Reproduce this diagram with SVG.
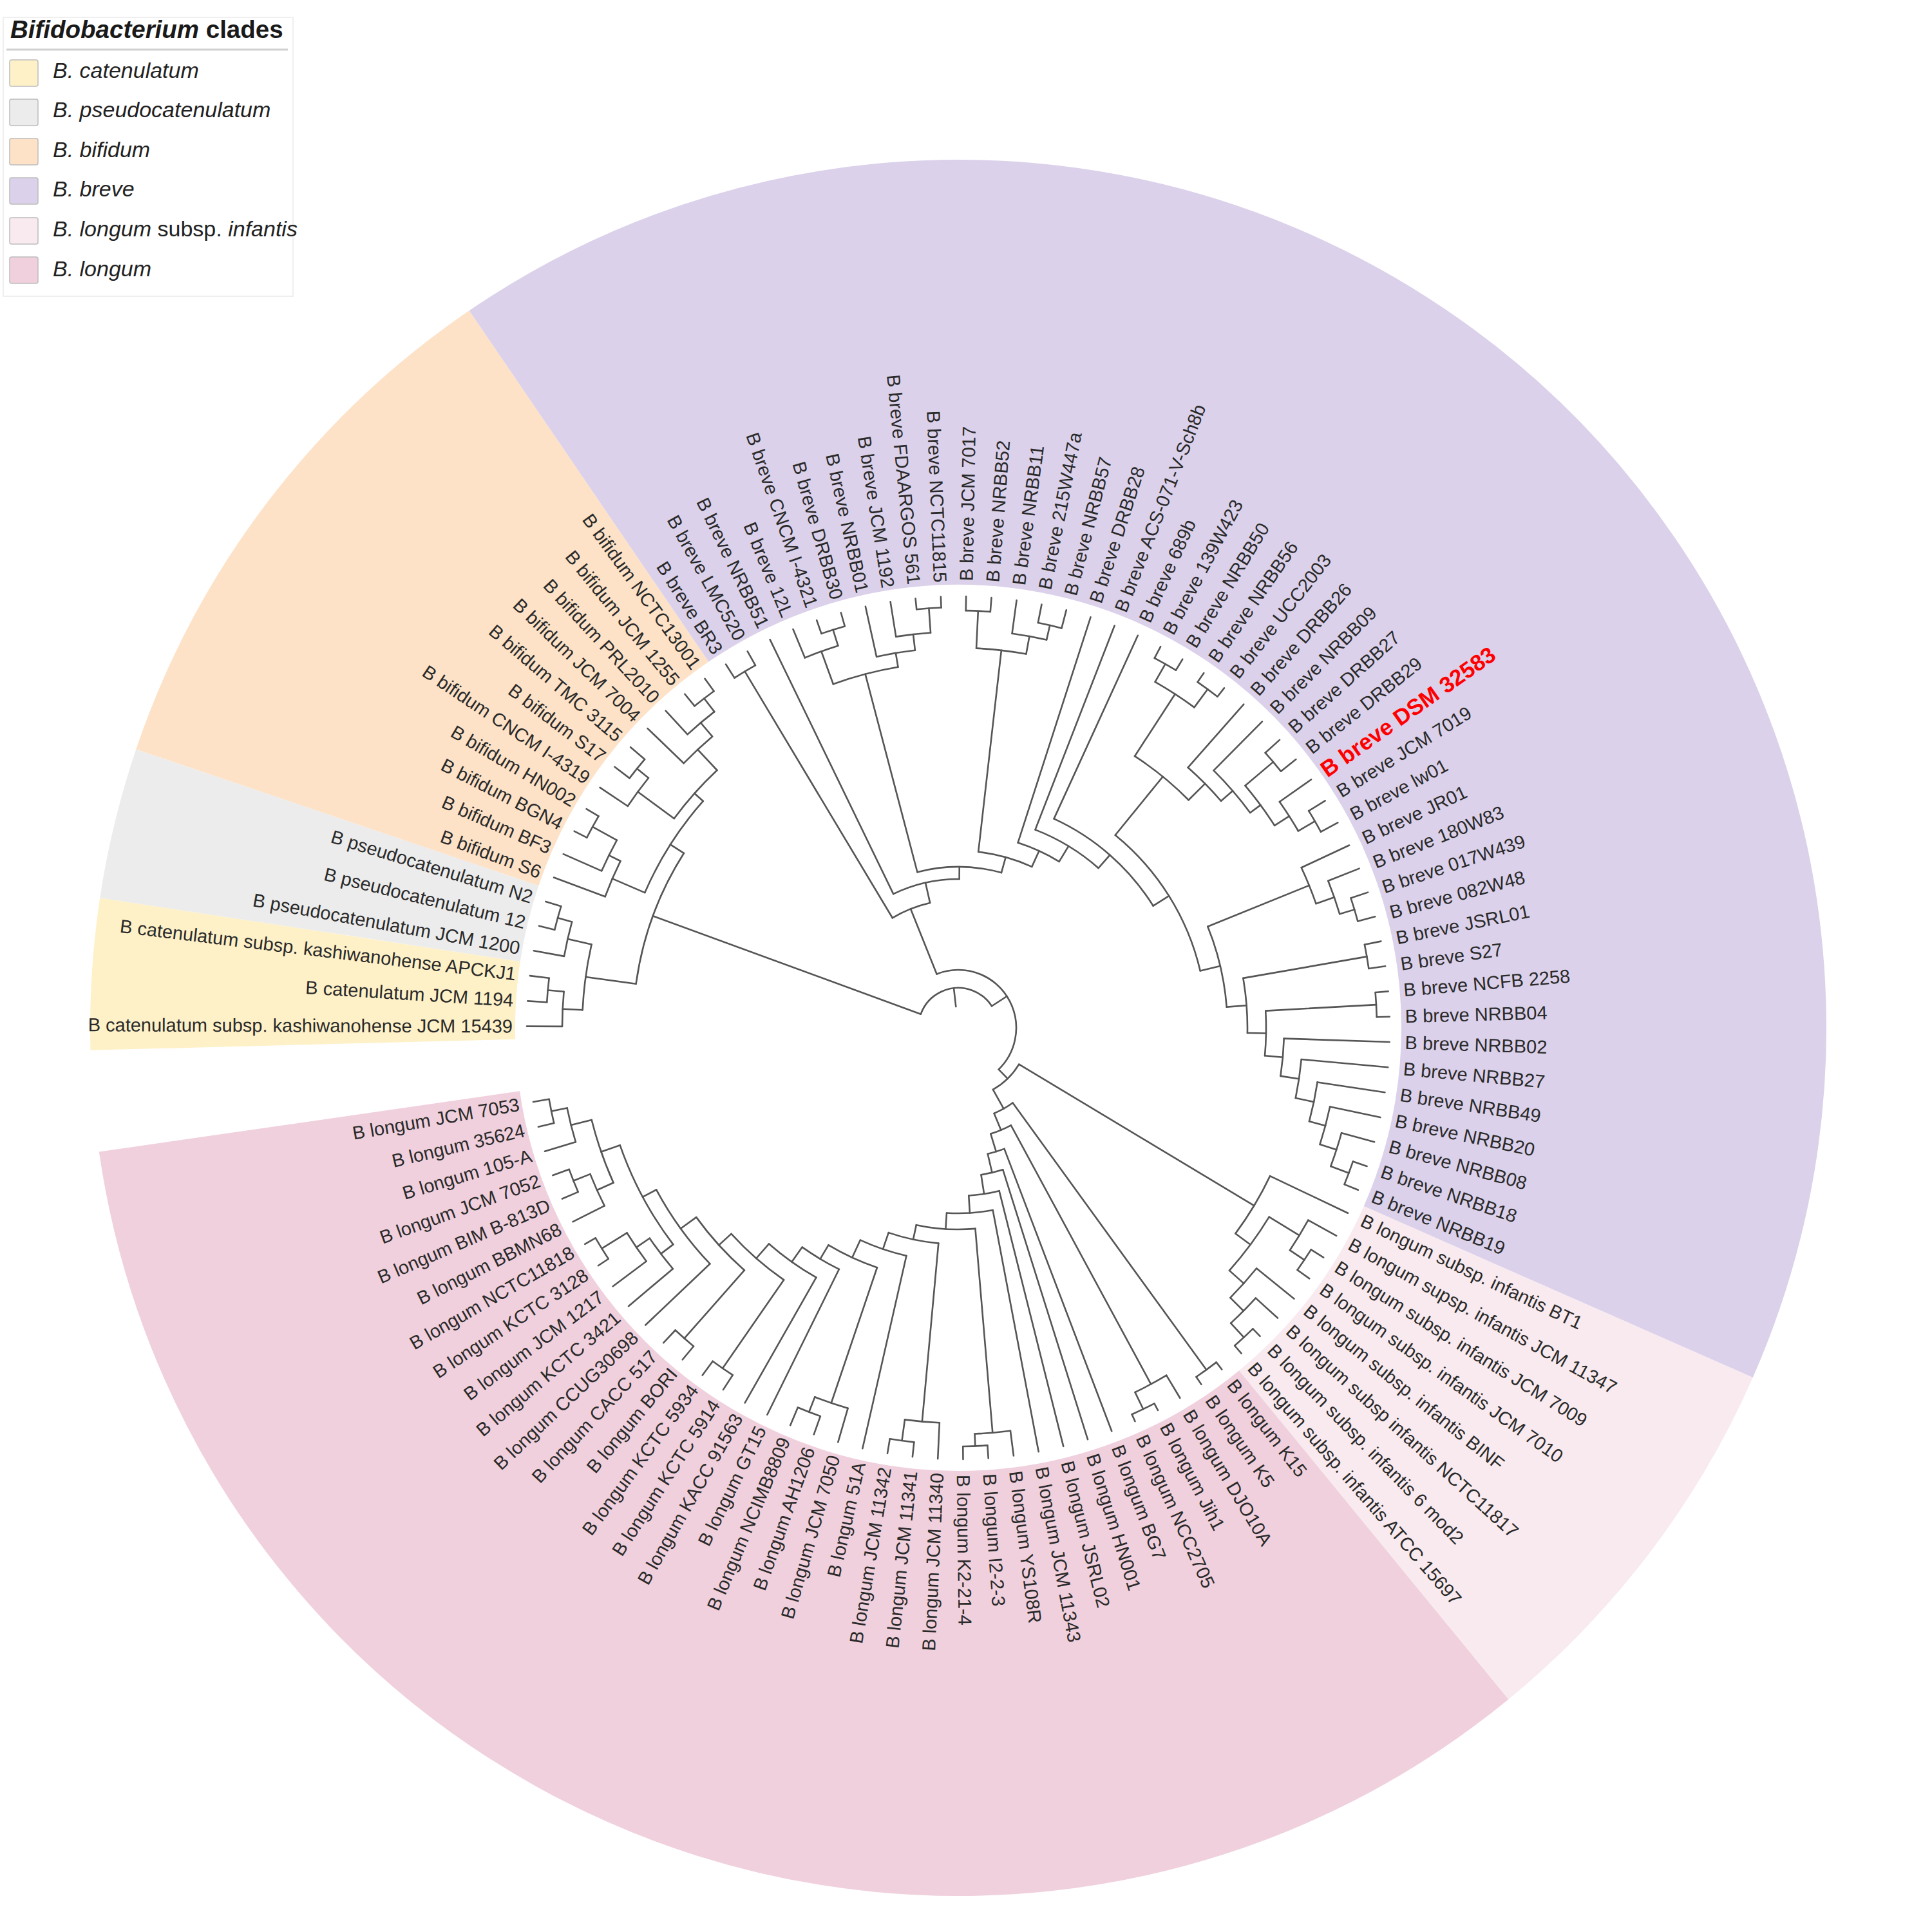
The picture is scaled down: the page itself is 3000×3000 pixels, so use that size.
<svg xmlns="http://www.w3.org/2000/svg" width="3000" height="3000" viewBox="0 0 3000 3000">
<style>
.w{fill:none;stroke-width:660}
#tree line,#tree circle{fill:none;stroke:#555;stroke-width:2.6;stroke-linecap:round}
.t{font-family:"Liberation Sans",Arial,Helvetica,sans-serif;font-size:29px;fill:#2a2a2a;dominant-baseline:central}
.e{text-anchor:end}
.lg{font-family:"Liberation Sans",Arial,Helvetica,sans-serif;font-size:34px;fill:#222;font-style:italic}
.sq{stroke:#bdbdbd;stroke-width:1.5}
</style>
<rect width="3000" height="3000" fill="#fff"/>
<g id="clades" transform="translate(1488 1596)">
<circle class="w" r="1018" pathLength="360" stroke="#FEF1C8" stroke-dasharray="10.09 999" transform="rotate(178.52)"/>
<circle class="w" r="1018" pathLength="360" stroke="#ECECEC" stroke-dasharray="10.10 999" transform="rotate(188.61)"/>
<circle class="w" r="1018" pathLength="360" stroke="#FDE2C7" stroke-dasharray="37.0 999" transform="rotate(198.71)"/>
<circle class="w" r="1018" pathLength="360" stroke="#DBD1EA" stroke-dasharray="148.04 999" transform="rotate(235.71)"/>
<circle class="w" r="1018" pathLength="360" stroke="#F8EAEF" stroke-dasharray="26.92 999" transform="rotate(383.75)"/>
<circle class="w" r="1018" pathLength="360" stroke="#F0D0DD" stroke-dasharray="121.12 999" transform="rotate(410.67)"/>
</g>
<g id="tree" transform="translate(1488 1596)">
<circle r="640" pathLength="360" stroke-dasharray="3.37 999" transform="rotate(183.56)"/>
<line x1="640" x2="670" transform="rotate(183.56)"/><line x1="640" x2="670" transform="rotate(186.93)"/>
<circle r="615" pathLength="360" stroke-dasharray="5.045 999" transform="rotate(180.2)"/>
<line x1="615" x2="670" transform="rotate(180.2)"/><line x1="615" x2="640" transform="rotate(185.245)"/>
<circle r="645" pathLength="360" stroke-dasharray="3.36 999" transform="rotate(193.66)"/>
<line x1="645" x2="670" transform="rotate(193.66)"/><line x1="645" x2="670" transform="rotate(197.02)"/>
<circle r="622" pathLength="360" stroke-dasharray="5.05 999" transform="rotate(190.29)"/>
<line x1="622" x2="670" transform="rotate(190.29)"/><line x1="622" x2="645" transform="rotate(195.34)"/>
<circle r="584" pathLength="360" stroke-dasharray="10.095 999" transform="rotate(182.72)"/>
<line x1="584" x2="615" transform="rotate(182.72)"/><line x1="584" x2="622" transform="rotate(192.815)"/>
<circle r="648" pathLength="360" stroke-dasharray="3.36 999" transform="rotate(207.12)"/>
<line x1="648" x2="670" transform="rotate(207.12)"/><line x1="648" x2="670" transform="rotate(210.48)"/>
<circle r="605" pathLength="360" stroke-dasharray="5.05 999" transform="rotate(203.75)"/>
<line x1="605" x2="670" transform="rotate(203.75)"/><line x1="605" x2="648" transform="rotate(208.8)"/>
<circle r="585" pathLength="360" stroke-dasharray="5.885 999" transform="rotate(200.39)"/>
<line x1="585" x2="670" transform="rotate(200.39)"/><line x1="585" x2="605" transform="rotate(206.275)"/>
<circle r="641" pathLength="360" stroke-dasharray="3.36 999" transform="rotate(217.21)"/>
<line x1="641" x2="670" transform="rotate(217.21)"/><line x1="641" x2="670" transform="rotate(220.57)"/>
<circle r="618" pathLength="360" stroke-dasharray="5.04 999" transform="rotate(213.85)"/>
<line x1="618" x2="670" transform="rotate(213.85)"/><line x1="618" x2="641" transform="rotate(218.89)"/>
<circle r="646" pathLength="360" stroke-dasharray="3.36 999" transform="rotate(230.67)"/>
<line x1="646" x2="670" transform="rotate(230.67)"/><line x1="646" x2="670" transform="rotate(234.03)"/>
<circle r="620" pathLength="360" stroke-dasharray="5.05 999" transform="rotate(227.3)"/>
<line x1="620" x2="670" transform="rotate(227.3)"/><line x1="620" x2="646" transform="rotate(232.35)"/>
<circle r="592" pathLength="360" stroke-dasharray="5.885 999" transform="rotate(223.94)"/>
<line x1="592" x2="670" transform="rotate(223.94)"/><line x1="592" x2="620" transform="rotate(229.825)"/>
<circle r="548" pathLength="360" stroke-dasharray="10.51 999" transform="rotate(216.37)"/>
<line x1="548" x2="618" transform="rotate(216.37)"/><line x1="548" x2="592" transform="rotate(226.88)"/>
<circle r="530" pathLength="360" stroke-dasharray="18.295 999" transform="rotate(203.33)"/>
<line x1="530" x2="585" transform="rotate(203.33)"/><line x1="530" x2="548" transform="rotate(221.625)"/>
<circle r="505" pathLength="360" stroke-dasharray="24.71 999" transform="rotate(187.77)"/>
<line x1="505" x2="584" transform="rotate(187.77)"/><line x1="505" x2="530" transform="rotate(212.48)"/>
<circle r="645" pathLength="360" stroke-dasharray="3.36 999" transform="rotate(237.4)"/>
<line x1="645" x2="670" transform="rotate(237.4)"/><line x1="645" x2="670" transform="rotate(240.76)"/>
<circle r="648" pathLength="360" stroke-dasharray="3.37 999" transform="rotate(250.85)"/>
<line x1="648" x2="670" transform="rotate(250.85)"/><line x1="648" x2="670" transform="rotate(254.22)"/>
<circle r="622" pathLength="360" stroke-dasharray="5.045 999" transform="rotate(247.49)"/>
<line x1="622" x2="670" transform="rotate(247.49)"/><line x1="622" x2="648" transform="rotate(252.535)"/>
<circle r="653" pathLength="360" stroke-dasharray="3.37 999" transform="rotate(264.31)"/>
<line x1="653" x2="670" transform="rotate(264.31)"/><line x1="653" x2="670" transform="rotate(267.68)"/>
<circle r="615" pathLength="360" stroke-dasharray="5.045 999" transform="rotate(260.95)"/>
<line x1="615" x2="670" transform="rotate(260.95)"/><line x1="615" x2="653" transform="rotate(265.995)"/>
<circle r="590" pathLength="360" stroke-dasharray="5.89 999" transform="rotate(257.58)"/>
<line x1="590" x2="670" transform="rotate(257.58)"/><line x1="590" x2="615" transform="rotate(263.47)"/>
<circle r="568" pathLength="360" stroke-dasharray="10.515 999" transform="rotate(250.01)"/>
<line x1="568" x2="622" transform="rotate(250.01)"/><line x1="568" x2="590" transform="rotate(260.525)"/>
<circle r="648" pathLength="360" stroke-dasharray="3.37 999" transform="rotate(271.04)"/>
<line x1="648" x2="670" transform="rotate(271.04)"/><line x1="648" x2="670" transform="rotate(274.41)"/>
<circle r="641" pathLength="360" stroke-dasharray="3.36 999" transform="rotate(281.14)"/>
<line x1="641" x2="670" transform="rotate(281.14)"/><line x1="641" x2="670" transform="rotate(284.5)"/>
<circle r="618" pathLength="360" stroke-dasharray="5.05 999" transform="rotate(277.77)"/>
<line x1="618" x2="670" transform="rotate(277.77)"/><line x1="618" x2="641" transform="rotate(282.82)"/>
<circle r="590" pathLength="360" stroke-dasharray="7.57 999" transform="rotate(272.725)"/>
<line x1="590" x2="648" transform="rotate(272.725)"/><line x1="590" x2="618" transform="rotate(280.295)"/>
<circle r="650" pathLength="360" stroke-dasharray="3.36 999" transform="rotate(297.96)"/>
<line x1="650" x2="670" transform="rotate(297.96)"/><line x1="650" x2="670" transform="rotate(301.32)"/>
<circle r="653" pathLength="360" stroke-dasharray="3.36 999" transform="rotate(304.69)"/>
<line x1="653" x2="670" transform="rotate(304.69)"/><line x1="653" x2="670" transform="rotate(308.05)"/>
<circle r="618" pathLength="360" stroke-dasharray="6.73 999" transform="rotate(299.64)"/>
<line x1="618" x2="650" transform="rotate(299.64)"/><line x1="618" x2="653" transform="rotate(306.37)"/>
<circle r="640" pathLength="360" stroke-dasharray="3.36 999" transform="rotate(328.24)"/>
<line x1="640" x2="670" transform="rotate(328.24)"/><line x1="640" x2="670" transform="rotate(331.6)"/>
<circle r="610" pathLength="360" stroke-dasharray="5.05 999" transform="rotate(324.87)"/>
<line x1="610" x2="670" transform="rotate(324.87)"/><line x1="610" x2="640" transform="rotate(329.92)"/>
<circle r="640" pathLength="360" stroke-dasharray="3.37 999" transform="rotate(318.14)"/>
<line x1="640" x2="670" transform="rotate(318.14)"/><line x1="640" x2="670" transform="rotate(321.51)"/>
<circle r="583" pathLength="360" stroke-dasharray="7.57 999" transform="rotate(319.825)"/>
<line x1="583" x2="640" transform="rotate(319.825)"/><line x1="583" x2="610" transform="rotate(327.395)"/>
<circle r="563" pathLength="360" stroke-dasharray="8.83 999" transform="rotate(314.78)"/>
<line x1="563" x2="670" transform="rotate(314.78)"/><line x1="563" x2="583" transform="rotate(323.61)"/>
<circle r="539" pathLength="360" stroke-dasharray="7.775 999" transform="rotate(311.42)"/>
<line x1="539" x2="670" transform="rotate(311.42)"/><line x1="539" x2="563" transform="rotate(319.195)"/>
<circle r="503" pathLength="360" stroke-dasharray="12.305 999" transform="rotate(303.005)"/>
<line x1="503" x2="618" transform="rotate(303.005)"/><line x1="503" x2="539" transform="rotate(315.31)"/>
<circle r="642" pathLength="360" stroke-dasharray="3.36 999" transform="rotate(341.7)"/>
<line x1="642" x2="670" transform="rotate(341.7)"/><line x1="642" x2="670" transform="rotate(345.06)"/>
<circle r="618" pathLength="360" stroke-dasharray="5.05 999" transform="rotate(338.33)"/>
<line x1="618" x2="670" transform="rotate(338.33)"/><line x1="618" x2="642" transform="rotate(343.38)"/>
<circle r="588" pathLength="360" stroke-dasharray="5.885 999" transform="rotate(334.97)"/>
<line x1="588" x2="670" transform="rotate(334.97)"/><line x1="588" x2="618" transform="rotate(340.855)"/>
<circle r="644" pathLength="360" stroke-dasharray="3.36 999" transform="rotate(348.43)"/>
<line x1="644" x2="670" transform="rotate(348.43)"/><line x1="644" x2="670" transform="rotate(351.79)"/>
<circle r="650" pathLength="360" stroke-dasharray="3.37 999" transform="rotate(355.15)"/>
<line x1="650" x2="670" transform="rotate(355.15)"/><line x1="650" x2="670" transform="rotate(358.52)"/>
<circle r="647" pathLength="360" stroke-dasharray="3.36 999" transform="rotate(378.71)"/>
<line x1="647" x2="670" transform="rotate(378.71)"/><line x1="647" x2="670" transform="rotate(382.07)"/>
<circle r="617" pathLength="360" stroke-dasharray="5.05 999" transform="rotate(375.34)"/>
<line x1="617" x2="670" transform="rotate(375.34)"/><line x1="617" x2="647" transform="rotate(380.39)"/>
<circle r="590" pathLength="360" stroke-dasharray="5.885 999" transform="rotate(371.98)"/>
<line x1="590" x2="670" transform="rotate(371.98)"/><line x1="590" x2="617" transform="rotate(377.865)"/>
<circle r="564" pathLength="360" stroke-dasharray="6.31 999" transform="rotate(368.61)"/>
<line x1="564" x2="670" transform="rotate(368.61)"/><line x1="564" x2="590" transform="rotate(374.92)"/>
<circle r="535" pathLength="360" stroke-dasharray="6.515 999" transform="rotate(365.25)"/>
<line x1="535" x2="670" transform="rotate(365.25)"/><line x1="535" x2="564" transform="rotate(371.765)"/>
<circle r="506" pathLength="360" stroke-dasharray="6.63 999" transform="rotate(361.88)"/>
<line x1="506" x2="670" transform="rotate(361.88)"/><line x1="506" x2="535" transform="rotate(368.51)"/>
<circle r="478" pathLength="360" stroke-dasharray="8.36 999" transform="rotate(356.835)"/>
<line x1="478" x2="650" transform="rotate(356.835)"/><line x1="478" x2="506" transform="rotate(365.195)"/>
<circle r="449" pathLength="360" stroke-dasharray="10.905 999" transform="rotate(350.11)"/>
<line x1="449" x2="644" transform="rotate(350.11)"/><line x1="449" x2="478" transform="rotate(361.015)"/>
<circle r="418" pathLength="360" stroke-dasharray="17.65 999" transform="rotate(337.91)"/>
<line x1="418" x2="588" transform="rotate(337.91)"/><line x1="418" x2="449" transform="rotate(355.56)"/>
<circle r="386" pathLength="360" stroke-dasharray="37.575 999" transform="rotate(309.16)"/>
<line x1="386" x2="503" transform="rotate(309.16)"/><line x1="386" x2="418" transform="rotate(346.735)"/>
<circle r="357" pathLength="360" stroke-dasharray="33.36 999" transform="rotate(294.59)"/>
<line x1="357" x2="670" transform="rotate(294.59)"/><line x1="357" x2="386" transform="rotate(327.95)"/>
<circle r="330" pathLength="360" stroke-dasharray="20.04 999" transform="rotate(291.23)"/>
<line x1="330" x2="670" transform="rotate(291.23)"/><line x1="330" x2="357" transform="rotate(311.27)"/>
<circle r="302" pathLength="360" stroke-dasharray="13.39 999" transform="rotate(287.86)"/>
<line x1="302" x2="670" transform="rotate(287.86)"/><line x1="302" x2="330" transform="rotate(301.25)"/>
<circle r="275" pathLength="360" stroke-dasharray="18.045 999" transform="rotate(276.51)"/>
<line x1="275" x2="590" transform="rotate(276.51)"/><line x1="275" x2="302" transform="rotate(294.555)"/>
<circle r="250" pathLength="360" stroke-dasharray="30.26 999" transform="rotate(255.27)"/>
<line x1="250" x2="568" transform="rotate(255.27)"/><line x1="250" x2="275" transform="rotate(285.53)"/>
<circle r="231" pathLength="360" stroke-dasharray="26.27 999" transform="rotate(244.13)"/>
<line x1="231" x2="670" transform="rotate(244.13)"/><line x1="231" x2="250" transform="rotate(270.4)"/>
<circle r="199" pathLength="360" stroke-dasharray="18.185 999" transform="rotate(239.08)"/>
<line x1="199" x2="645" transform="rotate(239.08)"/><line x1="199" x2="231" transform="rotate(257.265)"/>
<circle r="647" pathLength="360" stroke-dasharray="3.37 999" transform="rotate(392.16)"/>
<line x1="647" x2="670" transform="rotate(392.16)"/><line x1="647" x2="670" transform="rotate(395.53)"/>
<circle r="620" pathLength="360" stroke-dasharray="5.045 999" transform="rotate(388.8)"/>
<line x1="620" x2="670" transform="rotate(388.8)"/><line x1="620" x2="647" transform="rotate(393.845)"/>
<circle r="654" pathLength="360" stroke-dasharray="3.37 999" transform="rotate(405.62)"/>
<line x1="654" x2="670" transform="rotate(405.62)"/><line x1="654" x2="670" transform="rotate(408.99)"/>
<circle r="624" pathLength="360" stroke-dasharray="5.045 999" transform="rotate(402.26)"/>
<line x1="624" x2="670" transform="rotate(402.26)"/><line x1="624" x2="654" transform="rotate(407.305)"/>
<circle r="595" pathLength="360" stroke-dasharray="5.89 999" transform="rotate(398.89)"/>
<line x1="595" x2="670" transform="rotate(398.89)"/><line x1="595" x2="624" transform="rotate(404.78)"/>
<circle r="565" pathLength="360" stroke-dasharray="10.515 999" transform="rotate(391.32)"/>
<line x1="565" x2="620" transform="rotate(391.32)"/><line x1="565" x2="595" transform="rotate(401.835)"/>
<circle r="536" pathLength="360" stroke-dasharray="11.15 999" transform="rotate(385.43)"/>
<line x1="536" x2="670" transform="rotate(385.43)"/><line x1="536" x2="565" transform="rotate(396.58)"/>
<circle r="656" pathLength="360" stroke-dasharray="3.37 999" transform="rotate(412.35)"/>
<line x1="656" x2="670" transform="rotate(412.35)"/><line x1="656" x2="670" transform="rotate(415.72)"/>
<circle r="658" pathLength="360" stroke-dasharray="3.37 999" transform="rotate(422.44)"/>
<line x1="658" x2="670" transform="rotate(422.44)"/><line x1="658" x2="670" transform="rotate(425.81)"/>
<circle r="629" pathLength="360" stroke-dasharray="5.045 999" transform="rotate(419.08)"/>
<line x1="629" x2="670" transform="rotate(419.08)"/><line x1="629" x2="658" transform="rotate(424.125)"/>
<circle r="650" pathLength="360" stroke-dasharray="3.36 999" transform="rotate(446)"/>
<line x1="650" x2="670" transform="rotate(446)"/><line x1="650" x2="670" transform="rotate(449.36)"/>
<circle r="631" pathLength="360" stroke-dasharray="5.05 999" transform="rotate(442.63)"/>
<line x1="631" x2="670" transform="rotate(442.63)"/><line x1="631" x2="650" transform="rotate(447.68)"/>
<circle r="647" pathLength="360" stroke-dasharray="3.36 999" transform="rotate(456.09)"/>
<line x1="647" x2="670" transform="rotate(456.09)"/><line x1="647" x2="670" transform="rotate(459.45)"/>
<circle r="614" pathLength="360" stroke-dasharray="5.05 999" transform="rotate(452.72)"/>
<line x1="614" x2="670" transform="rotate(452.72)"/><line x1="614" x2="647" transform="rotate(457.77)"/>
<circle r="640" pathLength="360" stroke-dasharray="3.36 999" transform="rotate(469.55)"/>
<line x1="640" x2="670" transform="rotate(469.55)"/><line x1="640" x2="670" transform="rotate(472.91)"/>
<circle r="615" pathLength="360" stroke-dasharray="5.05 999" transform="rotate(466.18)"/>
<line x1="615" x2="670" transform="rotate(466.18)"/><line x1="615" x2="640" transform="rotate(471.23)"/>
<circle r="643" pathLength="360" stroke-dasharray="3.36 999" transform="rotate(483.01)"/>
<line x1="643" x2="670" transform="rotate(483.01)"/><line x1="643" x2="670" transform="rotate(486.37)"/>
<circle r="643" pathLength="360" stroke-dasharray="3.37 999" transform="rotate(489.73)"/>
<line x1="643" x2="670" transform="rotate(489.73)"/><line x1="643" x2="670" transform="rotate(493.1)"/>
<circle r="651" pathLength="360" stroke-dasharray="3.36 999" transform="rotate(506.56)"/>
<line x1="651" x2="670" transform="rotate(506.56)"/><line x1="651" x2="670" transform="rotate(509.92)"/>
<circle r="605" pathLength="360" stroke-dasharray="5.05 999" transform="rotate(503.19)"/>
<line x1="605" x2="670" transform="rotate(503.19)"/><line x1="605" x2="651" transform="rotate(508.24)"/>
<circle r="580" pathLength="360" stroke-dasharray="5.885 999" transform="rotate(499.83)"/>
<line x1="580" x2="670" transform="rotate(499.83)"/><line x1="580" x2="605" transform="rotate(505.715)"/>
<circle r="643" pathLength="360" stroke-dasharray="3.36 999" transform="rotate(516.65)"/>
<line x1="643" x2="670" transform="rotate(516.65)"/><line x1="643" x2="670" transform="rotate(520.01)"/>
<circle r="615" pathLength="360" stroke-dasharray="5.04 999" transform="rotate(513.29)"/>
<line x1="615" x2="670" transform="rotate(513.29)"/><line x1="615" x2="643" transform="rotate(518.33)"/>
<circle r="645" pathLength="360" stroke-dasharray="3.37 999" transform="rotate(526.74)"/>
<line x1="645" x2="670" transform="rotate(526.74)"/><line x1="645" x2="670" transform="rotate(530.11)"/>
<circle r="620" pathLength="360" stroke-dasharray="5.045 999" transform="rotate(523.38)"/>
<line x1="620" x2="670" transform="rotate(523.38)"/><line x1="620" x2="645" transform="rotate(528.425)"/>
<circle r="587" pathLength="360" stroke-dasharray="10.09 999" transform="rotate(515.81)"/>
<line x1="587" x2="615" transform="rotate(515.81)"/><line x1="587" x2="620" transform="rotate(525.9)"/>
<circle r="556" pathLength="360" stroke-dasharray="18.085 999" transform="rotate(502.77)"/>
<line x1="556" x2="580" transform="rotate(502.77)"/><line x1="556" x2="587" transform="rotate(520.855)"/>
<circle r="532" pathLength="360" stroke-dasharray="15.35 999" transform="rotate(496.46)"/>
<line x1="532" x2="670" transform="rotate(496.46)"/><line x1="532" x2="556" transform="rotate(511.81)"/>
<circle r="502" pathLength="360" stroke-dasharray="12.72 999" transform="rotate(491.415)"/>
<line x1="502" x2="643" transform="rotate(491.415)"/><line x1="502" x2="532" transform="rotate(504.135)"/>
<circle r="476" pathLength="360" stroke-dasharray="13.085 999" transform="rotate(484.69)"/>
<line x1="476" x2="643" transform="rotate(484.69)"/><line x1="476" x2="502" transform="rotate(497.775)"/>
<circle r="446" pathLength="360" stroke-dasharray="11.59 999" transform="rotate(479.64)"/>
<line x1="446" x2="670" transform="rotate(479.64)"/><line x1="446" x2="476" transform="rotate(491.23)"/>
<circle r="418" pathLength="360" stroke-dasharray="9.155 999" transform="rotate(476.28)"/>
<line x1="418" x2="670" transform="rotate(476.28)"/><line x1="418" x2="446" transform="rotate(485.435)"/>
<circle r="393" pathLength="360" stroke-dasharray="12.155 999" transform="rotate(468.705)"/>
<line x1="393" x2="615" transform="rotate(468.705)"/><line x1="393" x2="418" transform="rotate(480.86)"/>
<circle r="363" pathLength="360" stroke-dasharray="11.96 999" transform="rotate(462.82)"/>
<line x1="363" x2="670" transform="rotate(462.82)"/><line x1="363" x2="393" transform="rotate(474.78)"/>
<circle r="336" pathLength="360" stroke-dasharray="13.555 999" transform="rotate(455.245)"/>
<line x1="336" x2="614" transform="rotate(455.245)"/><line x1="336" x2="363" transform="rotate(468.8)"/>
<circle r="313" pathLength="360" stroke-dasharray="16.865 999" transform="rotate(445.155)"/>
<line x1="313" x2="631" transform="rotate(445.155)"/><line x1="313" x2="336" transform="rotate(462.02)"/>
<circle r="288" pathLength="360" stroke-dasharray="14.32 999" transform="rotate(439.27)"/>
<line x1="288" x2="670" transform="rotate(439.27)"/><line x1="288" x2="313" transform="rotate(453.59)"/>
<circle r="261" pathLength="360" stroke-dasharray="10.53 999" transform="rotate(435.9)"/>
<line x1="261" x2="670" transform="rotate(435.9)"/><line x1="261" x2="288" transform="rotate(446.43)"/>
<circle r="231" pathLength="360" stroke-dasharray="8.625 999" transform="rotate(432.54)"/>
<line x1="231" x2="670" transform="rotate(432.54)"/><line x1="231" x2="261" transform="rotate(441.165)"/>
<circle r="201" pathLength="360" stroke-dasharray="7.68 999" transform="rotate(429.17)"/>
<line x1="201" x2="670" transform="rotate(429.17)"/><line x1="201" x2="231" transform="rotate(436.85)"/>
<circle r="172" pathLength="360" stroke-dasharray="11.41 999" transform="rotate(421.6)"/>
<line x1="172" x2="629" transform="rotate(421.6)"/><line x1="172" x2="201" transform="rotate(433.01)"/>
<circle r="144" pathLength="360" stroke-dasharray="13.27 999" transform="rotate(414.035)"/>
<line x1="144" x2="656" transform="rotate(414.035)"/><line x1="144" x2="172" transform="rotate(427.305)"/>
<circle r="110" pathLength="360" stroke-dasharray="29.665 999" transform="rotate(391.005)"/>
<line x1="110" x2="536" transform="rotate(391.005)"/><line x1="110" x2="144" transform="rotate(420.67)"/>
<circle r="90" pathLength="360" stroke-dasharray="157.67 999" transform="rotate(248.17)"/>
<line x1="90" x2="199" transform="rotate(248.17)"/><line x1="90" x2="110" transform="rotate(405.84)"/>
<circle r="62" pathLength="360" stroke-dasharray="126.88 999" transform="rotate(200.125)"/>
<line x1="62" x2="505" transform="rotate(200.125)"/><line x1="62" x2="90" transform="rotate(327.005)"/>
<line x1="33" x2="62" transform="rotate(263.565)"/>
</g>
<g id="labels" transform="translate(1488 1596)">
<g id="leaf0"><text class="t e" x="-692" transform="rotate(0.2)">B catenulatum subsp. kashiwanohense JCM 15439</text></g>
<g id="leaf1"><text class="t e" x="-692" transform="rotate(3.56)">B catenulatum JCM 1194</text></g>
<g id="leaf2"><text class="t e" x="-692" transform="rotate(6.93)">B catenulatum subsp. kashiwanohense APCKJ1</text></g>
<g id="leaf3"><text class="t e" x="-692" transform="rotate(10.29)">B pseudocatenulatum JCM 1200</text></g>
<g id="leaf4"><text class="t e" x="-692" transform="rotate(13.66)">B pseudocatenulatum 12</text></g>
<g id="leaf5"><text class="t e" x="-692" transform="rotate(17.02)">B pseudocatenulatum N2</text></g>
<g id="leaf6"><text class="t e" x="-692" transform="rotate(20.39)">B bifidum S6</text></g>
<g id="leaf7"><text class="t e" x="-692" transform="rotate(23.75)">B bifidum BF3</text></g>
<g id="leaf8"><text class="t e" x="-692" transform="rotate(27.12)">B bifidum BGN4</text></g>
<g id="leaf9"><text class="t e" x="-692" transform="rotate(30.48)">B bifidum HN002</text></g>
<g id="leaf10"><text class="t e" x="-692" transform="rotate(33.85)">B bifidum CNCM I-4319</text></g>
<g id="leaf11"><text class="t e" x="-692" transform="rotate(37.21)">B bifidum S17</text></g>
<g id="leaf12"><text class="t e" x="-692" transform="rotate(40.57)">B bifidum TMC 3115</text></g>
<g id="leaf13"><text class="t e" x="-692" transform="rotate(43.94)">B bifidum JCM 7004</text></g>
<g id="leaf14"><text class="t e" x="-692" transform="rotate(47.3)">B bifidum PRL2010</text></g>
<g id="leaf15"><text class="t e" x="-692" transform="rotate(50.67)">B bifidum JCM 1255</text></g>
<g id="leaf16"><text class="t e" x="-692" transform="rotate(54.03)">B bifidum NCTC13001</text></g>
<g id="leaf17"><text class="t e" x="-692" transform="rotate(57.4)">B breve BR3</text></g>
<g id="leaf18"><text class="t e" x="-692" transform="rotate(60.76)">B breve LMC520</text></g>
<g id="leaf19"><text class="t e" x="-692" transform="rotate(64.13)">B breve NRBB51</text></g>
<g id="leaf20"><text class="t e" x="-692" transform="rotate(67.49)">B breve 12L</text></g>
<g id="leaf21"><text class="t e" x="-692" transform="rotate(70.85)">B breve CNCM I-4321</text></g>
<g id="leaf22"><text class="t e" x="-692" transform="rotate(74.22)">B breve DRBB30</text></g>
<g id="leaf23"><text class="t e" x="-692" transform="rotate(77.58)">B breve NRBB01</text></g>
<g id="leaf24"><text class="t e" x="-692" transform="rotate(80.95)">B breve JCM 1192</text></g>
<g id="leaf25"><text class="t e" x="-692" transform="rotate(84.31)">B breve FDAARGOS 561</text></g>
<g id="leaf26"><text class="t e" x="-692" transform="rotate(87.68)">B breve NCTC11815</text></g>
<g id="leaf27"><text class="t" x="694" transform="rotate(271.04)">B breve JCM 7017</text></g>
<g id="leaf28"><text class="t" x="694" transform="rotate(274.41)">B breve NRBB52</text></g>
<g id="leaf29"><text class="t" x="694" transform="rotate(277.77)">B breve NRBB11</text></g>
<g id="leaf30"><text class="t" x="694" transform="rotate(281.14)">B breve 215W447a</text></g>
<g id="leaf31"><text class="t" x="694" transform="rotate(284.5)">B breve NRBB57</text></g>
<g id="leaf32"><text class="t" x="694" transform="rotate(287.86)">B breve DRBB28</text></g>
<g id="leaf33"><text class="t" x="694" transform="rotate(291.23)">B breve ACS-071-V-Sch8b</text></g>
<g id="leaf34"><text class="t" x="694" transform="rotate(294.59)">B breve 689b</text></g>
<g id="leaf35"><text class="t" x="694" transform="rotate(297.96)">B breve 139W423</text></g>
<g id="leaf36"><text class="t" x="694" transform="rotate(301.32)">B breve NRBB50</text></g>
<g id="leaf37"><text class="t" x="694" transform="rotate(304.69)">B breve NRBB56</text></g>
<g id="leaf38"><text class="t" x="694" transform="rotate(308.05)">B breve UCC2003</text></g>
<g id="leaf39"><text class="t" x="694" transform="rotate(311.42)">B breve DRBB26</text></g>
<g id="leaf40"><text class="t" x="694" transform="rotate(314.78)">B breve NRBB09</text></g>
<g id="leaf41"><text class="t" x="694" transform="rotate(318.14)">B breve DRBB27</text></g>
<g id="leaf42"><text class="t" x="694" transform="rotate(321.51)">B breve DRBB29</text></g>
<g id="leaf43"><text class="t" x="692" transform="rotate(324.87)" style="font-size:35px;font-weight:bold;fill:#ff0000">B breve DSM 32583</text></g>
<g id="leaf44"><text class="t" x="694" transform="rotate(328.24)">B breve JCM 7019</text></g>
<g id="leaf45"><text class="t" x="694" transform="rotate(331.6)">B breve lw01</text></g>
<g id="leaf46"><text class="t" x="694" transform="rotate(334.97)">B breve JR01</text></g>
<g id="leaf47"><text class="t" x="694" transform="rotate(338.33)">B breve 180W83</text></g>
<g id="leaf48"><text class="t" x="694" transform="rotate(341.7)">B breve 017W439</text></g>
<g id="leaf49"><text class="t" x="694" transform="rotate(345.06)">B breve 082W48</text></g>
<g id="leaf50"><text class="t" x="694" transform="rotate(348.43)">B breve JSRL01</text></g>
<g id="leaf51"><text class="t" x="694" transform="rotate(351.79)">B breve S27</text></g>
<g id="leaf52"><text class="t" x="694" transform="rotate(355.15)">B breve NCFB 2258</text></g>
<g id="leaf53"><text class="t" x="694" transform="rotate(358.52)">B breve NRBB04</text></g>
<g id="leaf54"><text class="t" x="694" transform="rotate(361.88)">B breve NRBB02</text></g>
<g id="leaf55"><text class="t" x="694" transform="rotate(365.25)">B breve NRBB27</text></g>
<g id="leaf56"><text class="t" x="694" transform="rotate(368.61)">B breve NRBB49</text></g>
<g id="leaf57"><text class="t" x="694" transform="rotate(371.98)">B breve NRBB20</text></g>
<g id="leaf58"><text class="t" x="694" transform="rotate(375.34)">B breve NRBB08</text></g>
<g id="leaf59"><text class="t" x="694" transform="rotate(378.71)">B breve NRBB18</text></g>
<g id="leaf60"><text class="t" x="694" transform="rotate(382.07)">B breve NRBB19</text></g>
<g id="leaf61"><text class="t" x="694" transform="rotate(385.43)">B longum subsp. infantis BT1</text></g>
<g id="leaf62"><text class="t" x="694" transform="rotate(388.8)">B longum supsp. infantis JCM 11347</text></g>
<g id="leaf63"><text class="t" x="694" transform="rotate(392.16)">B longum subsp. infantis JCM 7009</text></g>
<g id="leaf64"><text class="t" x="694" transform="rotate(395.53)">B longum subsp. infantis JCM 7010</text></g>
<g id="leaf65"><text class="t" x="694" transform="rotate(398.89)">B longum subsp. infantis BINF</text></g>
<g id="leaf66"><text class="t" x="694" transform="rotate(402.26)">B longum subsp infantis NCTC11817</text></g>
<g id="leaf67"><text class="t" x="694" transform="rotate(405.62)">B longum subsp. infantis 6 mod2</text></g>
<g id="leaf68"><text class="t" x="694" transform="rotate(408.99)">B longum subsp. infantis ATCC 15697</text></g>
<g id="leaf69"><text class="t" x="694" transform="rotate(412.35)">B longum K15</text></g>
<g id="leaf70"><text class="t" x="694" transform="rotate(415.72)">B longum K5</text></g>
<g id="leaf71"><text class="t" x="694" transform="rotate(419.08)">B longum DJO10A</text></g>
<g id="leaf72"><text class="t" x="694" transform="rotate(422.44)">B longum Jih1</text></g>
<g id="leaf73"><text class="t" x="694" transform="rotate(425.81)">B longum NCC2705</text></g>
<g id="leaf74"><text class="t" x="694" transform="rotate(429.17)">B longum BG7</text></g>
<g id="leaf75"><text class="t" x="694" transform="rotate(432.54)">B longum HN001</text></g>
<g id="leaf76"><text class="t" x="694" transform="rotate(435.9)">B longum JSRL02</text></g>
<g id="leaf77"><text class="t" x="694" transform="rotate(439.27)">B longum JCM 11343</text></g>
<g id="leaf78"><text class="t" x="694" transform="rotate(442.63)">B longum YS108R</text></g>
<g id="leaf79"><text class="t" x="694" transform="rotate(446)">B longum I2-2-3</text></g>
<g id="leaf80"><text class="t" x="694" transform="rotate(449.36)">B longum K2-21-4</text></g>
<g id="leaf81"><text class="t e" x="-692" transform="rotate(272.72)">B longum JCM 11340</text></g>
<g id="leaf82"><text class="t e" x="-692" transform="rotate(276.09)">B longum JCM 11341</text></g>
<g id="leaf83"><text class="t e" x="-692" transform="rotate(279.45)">B longum JCM 11342</text></g>
<g id="leaf84"><text class="t e" x="-692" transform="rotate(282.82)">B longum 51A</text></g>
<g id="leaf85"><text class="t e" x="-692" transform="rotate(286.18)">B longum JCM 7050</text></g>
<g id="leaf86"><text class="t e" x="-692" transform="rotate(289.55)">B longum AH1206</text></g>
<g id="leaf87"><text class="t e" x="-692" transform="rotate(292.91)">B longum NCIMB8809</text></g>
<g id="leaf88"><text class="t e" x="-692" transform="rotate(296.28)">B longum GT15</text></g>
<g id="leaf89"><text class="t e" x="-692" transform="rotate(299.64)">B longum KACC 91563</text></g>
<g id="leaf90"><text class="t e" x="-692" transform="rotate(303.01)">B longum KCTC 5914</text></g>
<g id="leaf91"><text class="t e" x="-692" transform="rotate(306.37)">B longum KCTC 5934</text></g>
<g id="leaf92"><text class="t e" x="-692" transform="rotate(309.73)">B longum BORI</text></g>
<g id="leaf93"><text class="t e" x="-692" transform="rotate(313.1)">B longum CACC 517</text></g>
<g id="leaf94"><text class="t e" x="-692" transform="rotate(316.46)">B longum CCUG30698</text></g>
<g id="leaf95"><text class="t e" x="-692" transform="rotate(319.83)">B longum KCTC 3421</text></g>
<g id="leaf96"><text class="t e" x="-692" transform="rotate(323.19)">B longum JCM 1217</text></g>
<g id="leaf97"><text class="t e" x="-692" transform="rotate(326.56)">B longum KCTC 3128</text></g>
<g id="leaf98"><text class="t e" x="-692" transform="rotate(329.92)">B longum NCTC11818</text></g>
<g id="leaf99"><text class="t e" x="-692" transform="rotate(333.29)">B longum BBMN68</text></g>
<g id="leaf100"><text class="t e" x="-692" transform="rotate(336.65)">B longum BIM B-813D</text></g>
<g id="leaf101"><text class="t e" x="-692" transform="rotate(340.01)">B longum JCM 7052</text></g>
<g id="leaf102"><text class="t e" x="-692" transform="rotate(343.38)">B longum 105-A</text></g>
<g id="leaf103"><text class="t e" x="-692" transform="rotate(346.74)">B longum 35624</text></g>
<g id="leaf104"><text class="t e" x="-692" transform="rotate(350.11)">B longum JCM 7053</text></g>
</g>
<g id="legend">
<rect x="5" y="27" width="450" height="433" fill="#fff" stroke="#efefef" stroke-width="2"/>
<text x="16" y="59" font-family="Liberation Sans, Arial, sans-serif" font-size="38.5" font-weight="bold" fill="#1a1a1a"><tspan font-style="italic">Bifidobacterium</tspan> clades</text>
<line x1="10" y1="77" x2="447" y2="77" stroke="#cfcfcf" stroke-width="3"/>
<g id="legend-catenulatum"><rect class="sq" x="15" y="93" width="44" height="41" rx="3" fill="#FEF1C8"/><text class="lg" x="82" y="121">B. catenulatum</text></g>
<g id="legend-pseudocatenulatum"><rect class="sq" x="15" y="154" width="44" height="41" rx="3" fill="#ECECEC"/><text class="lg" x="82" y="182">B. pseudocatenulatum</text></g>
<g id="legend-bifidum"><rect class="sq" x="15" y="215" width="44" height="41" rx="3" fill="#FDE2C7"/><text class="lg" x="82" y="244">B. bifidum</text></g>
<g id="legend-breve"><rect class="sq" x="15" y="276" width="44" height="41" rx="3" fill="#DBD1EA"/><text class="lg" x="82" y="305">B. breve</text></g>
<g id="legend-infantis"><rect class="sq" x="15" y="338" width="44" height="41" rx="3" fill="#F8EAEF"/><text class="lg" x="82" y="367">B. longum <tspan font-style="normal">subsp.</tspan> infantis</text></g>
<g id="legend-longum"><rect class="sq" x="15" y="399" width="44" height="41" rx="3" fill="#F0D0DD"/><text class="lg" x="82" y="429">B. longum</text></g>
</g>
</svg>
